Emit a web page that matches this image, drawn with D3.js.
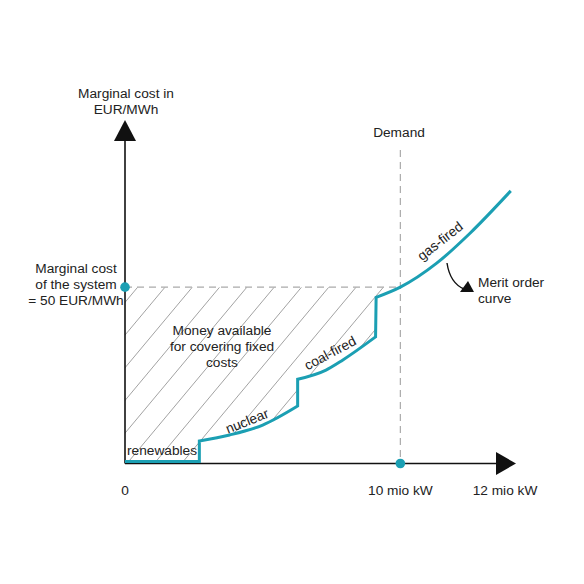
<!DOCTYPE html>
<html lang="en">
<head>
  <meta charset="utf-8">
  <title>Merit order</title>
  <script src="https://d3js.org/d3.v7.min.js"></script>
  <style>
  body { margin: 0; background: #fff; }
  text { font-family: 'Liberation Sans', Arial, sans-serif; font-size: 13.7px; fill: #222; }
  </style>
</head>
<body>
<script>
// merit order curve (x in mio kW, y in EUR/MWh)
var renewables = [[0, 0.6], [2.7, 0.6]];
var nuclear = [[2.7, 6.4], [3.8, 8.1], [5.0, 10.9], [6.27, 16.3]];
var coal = [[6.27, 23.9], [7.3, 26.5], [7.9, 29.3], [9.1, 35.9]];
var gas = [[9.12, 47.1], [10, 50], [11.32, 56.8], [12.53, 65.3], [14.01, 77.3]];

var demand = 10;          // mio kW
var systemCost = 50;      // EUR/MWh
var xTicks = [0, 10];
var xTickLabels = ['0', '10 mio kW'];
var xEndLabel = '12 mio kW';

var width = 584, height = 584;

var svg = d3.select('body').append('svg')
  .attr('width', width)
  .attr('height', height);

var x = d3.scaleLinear().domain([0, 14.2]).range([125, 516]);
var y = d3.scaleLinear().domain([0, 97.4]).range([463.5, 120]);

var teal = '#1b9fb3';

// build one continuous path out of the curved pieces
var line = d3.line()
  .x(function(d) { return x(d[0]); })
  .y(function(d) { return y(d[1]); })
  .curve(d3.curveMonotoneX);
var pieces = [renewables, nuclear, coal, gas];
var curveD = pieces.map(function(p, i) {
  var s = line(p);
  return i === 0 ? s : 'L' + s.slice(1);
}).join('');

// hatching: area between cost line and the curve, left of demand
var defs = svg.append('defs');
defs.append('clipPath').attr('id', 'box')
  .append('rect')
  .attr('x', x(0)).attr('y', y(systemCost))
  .attr('width', x(demand) - x(0)).attr('height', y(0) - y(systemCost));
defs.append('clipPath').attr('id', 'above')
  .append('path')
  .attr('d', curveD + 'L' + x(14.01) + ',' + y(97.4) + 'L' + x(0) + ',' + y(97.4) + 'Z');

var hatch = svg.append('g').attr('clip-path', 'url(#box)')
  .append('g').attr('clip-path', 'url(#above)');
var step = 27.3, slope = 0.835;
var starts = d3.range(-10, 14).map(function(k) { return 165 + k * step; });
hatch.selectAll('line')
  .data(starts)
  .enter()
  .append('line')
  .attr('x1', function(d) { return d; })
  .attr('y1', y(systemCost))
  .attr('x2', function(d) { return d - (y(0) - y(systemCost)) * slope; })
  .attr('y2', y(0))
  .attr('stroke', '#8a8a8a')
  .attr('stroke-width', 0.8);

// dashed guides
svg.append('line')
  .attr('x1', x(0)).attr('x2', x(demand))
  .attr('y1', y(systemCost)).attr('y2', y(systemCost))
  .attr('stroke', '#aaa').attr('stroke-width', 1.2)
  .attr('stroke-dasharray', '7,5');
svg.append('line')
  .attr('x1', x(demand)).attr('x2', x(demand))
  .attr('y1', 150).attr('y2', y(0))
  .attr('stroke', '#aaa').attr('stroke-width', 1.2)
  .attr('stroke-dasharray', '7,5');

// axes with big arrow heads
svg.append('line')
  .attr('x1', x(0)).attr('x2', x(0))
  .attr('y1', y(0)).attr('y2', y(97.4) + 18)
  .attr('stroke', '#111').attr('stroke-width', 1.6);
svg.append('path')
  .attr('d', 'M' + x(0) + ',' + y(97.4) + 'l-11,21l22,0z')
  .attr('fill', '#111');
svg.append('line')
  .attr('x1', x(0)).attr('x2', x(14.2) - 18)
  .attr('y1', y(0)).attr('y2', y(0))
  .attr('stroke', '#111').attr('stroke-width', 1.6);
svg.append('path')
  .attr('d', 'M' + x(14.2) + ',' + y(0) + 'l-20,-11.5l0,23z')
  .attr('fill', '#111');

// merit order curve
svg.append('path')
  .attr('d', curveD)
  .attr('fill', 'none')
  .attr('stroke', teal)
  .attr('stroke-width', 3)
  .attr('stroke-linejoin', 'miter');

// dots
svg.append('circle').attr('cx', x(0)).attr('cy', y(systemCost)).attr('r', 4.8).attr('fill', teal);
svg.append('circle').attr('cx', x(demand)).attr('cy', y(0)).attr('r', 4.8).attr('fill', teal);

// x tick labels
svg.selectAll('.xlab')
  .data(xTicks)
  .enter()
  .append('text')
  .attr('class', 'xlab')
  .attr('x', function(d) { return x(d); })
  .attr('y', 495)
  .attr('text-anchor', 'middle')
  .text(function(d, i) { return xTickLabels[i]; });
svg.append('text')
  .attr('x', x(14.2) - 11).attr('y', 495)
  .attr('text-anchor', 'middle')
  .text(xEndLabel);

// multi-line labels
function label(lines, px, py, anchor) {
  var t = svg.append('text').attr('text-anchor', anchor || 'middle');
  lines.forEach(function(s, i) {
    t.append('tspan').attr('x', px).attr('y', py + i * 16).text(s);
  });
}
label(['Marginal cost in', 'EUR/MWh'], 126, 98);
label(['Marginal cost', 'of the system', '= 50 EUR/MWh'], 76, 273);
label(['Demand'], 399, 137);
label(['Money available', 'for covering fixed', 'costs'], 222, 335);
label(['Merit order', 'curve'], 478, 287, 'start');
label(['renewables'], 162, 455);

// labels along the curve
function along(s, px, py, angle) {
  svg.append('text')
    .attr('text-anchor', 'middle')
    .attr('dy', '0.35em')
    .attr('transform', 'translate(' + px + ',' + py + ') rotate(' + angle + ')')
    .text(s);
}
along('nuclear', 247, 421, -22);
along('coal-fired', 330, 353, -28);
along('gas-fired', 440, 241, -38);

// small arrow to "Merit order curve"
svg.append('path')
  .attr('d', 'M447,263 Q450,283 464,289')
  .attr('fill', 'none')
  .attr('stroke', '#111')
  .attr('stroke-width', 1.4);
svg.append('path')
  .attr('d', 'M460,292 L474,292 L468,281 Z')
  .attr('fill', '#111');
</script>
</body>
</html>
